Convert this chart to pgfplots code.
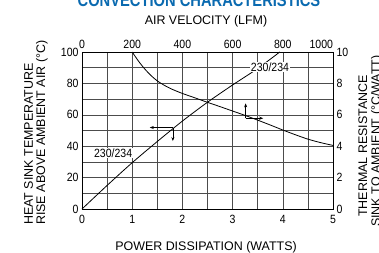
\documentclass[border=0pt]{standalone}
\usepackage{fontspec}
\setmainfont{Liberation Sans}
\newfontfamily\narrowfont[FakeStretch=0.88]{Liberation Sans}
\newfontfamily\titlefont[FakeStretch=0.82]{Liberation Sans}
\usepackage{pgfplots}
\pgfplotsset{compat=1.18}
\usetikzlibrary{arrows.meta}
\definecolor{titleblue}{HTML}{0A6AB0}
\begin{document}
\begin{tikzpicture}
\begin{axis}[
  scale only axis, width=251bp, height=157bp,
  xmin=0, xmax=5, ymin=0, ymax=100,
  xtick={0,...,5}, ytick={0,20,...,100},
  minor xtick={0.5,1.5,...,4.5}, minor ytick={10,30,...,90},
  grid=both,
  major grid style={black!70, line width=0.5pt},
  minor grid style={black!70, line width=0.5pt},
  major tick length=0pt, minor tick length=0pt,
  xtick pos=bottom, ytick pos=left,
  axis line style={black, line width=0.9pt},
  tick label style={font=\narrowfont\fontsize{12}{12}\selectfont},
  xticklabel style={yshift=-3bp},
  /pgf/number format/assume math mode=true,
  clip=false]
\addplot[black, line width=0.8pt, smooth] coordinates {
  (0,0) (0.5,15) (1,29.5) (1.5,43) (2,56) (2.5,68) (3,79) (3.5,89.5) (3.94,100)};
\draw[line width=0.6pt, -{Stealth[length=4pt,width=3pt]}] (axis cs:1.81,51.9) -- (axis cs:1.35,51.9);
\draw[line width=0.6pt, -{Stealth[length=4pt,width=3pt]}] (axis cs:1.81,51.9) -- (axis cs:1.81,43.3);
\node[font=\narrowfont\fontsize{12}{12}\selectfont, fill=white, inner sep=0.5pt] at (axis cs:0.62,35.7) {230/234};
\node[font=\narrowfont\fontsize{12}{12}\selectfont, fill=white, inner sep=0.5pt] at (axis cs:3.745,90.6) {230/234};
\end{axis}
\begin{axis}[
  scale only axis, width=251bp, height=157bp,
  xmin=0, xmax=1000, ymin=0, ymax=10,
  axis x line*=top, axis y line*=right,
  xtick={0,200,...,1000},
  xticklabels={0,200,400,600,800,\makebox[0pt][r]{1000}},
  ytick={0,2,...,10},
  major tick length=0pt,
  axis line style={black, line width=0.9pt},
  tick label style={font=\narrowfont\fontsize{12}{12}\selectfont},
  /pgf/number format/assume math mode=true,
  clip=false]
\addplot[black, line width=0.8pt, smooth, tension=0.5] coordinates {
  (200,10) (225,9.42) (250,8.92) (275,8.5) (300,8.16) (330,7.86) (360,7.62) (400,7.36) (450,7.08) (490,6.85) (550,6.52) (600,6.24) (650,5.96) (700,5.66) (750,5.35) (800,5.03) (850,4.73) (900,4.45) (950,4.23) (1000,4.05)};
\draw[line width=0.6pt, -{Stealth[length=4pt,width=3pt]}] (axis cs:652,5.78) -- (axis cs:652,6.73);
\draw[line width=0.6pt, -{Stealth[length=4pt,width=3pt]}] (axis cs:652,5.78) -- (axis cs:722,5.78);
\end{axis}
\begin{scope}[font=\fontsize{12.5}{12.5}\selectfont]
\node[anchor=base, inner sep=0] at (124bp,-41bp) {POWER DISSIPATION (WATTS)};
\node[anchor=base, inner sep=0] at (124bp,184bp) {AIR VELOCITY (LFM)};
\node[rotate=90, anchor=base west, inner sep=0] at (-49bp,-16bp) {HEAT SINK TEMPERATURE};
\node[rotate=90, anchor=base west, inner sep=0] at (-37bp,-16bp) {RISE ABOVE AMBIENT AIR (°C)};
\node[rotate=90, anchor=base west, inner sep=0] at (285bp,-8bp) {THERMAL RESISTANCE};
\node[rotate=90, anchor=base west, inner sep=0] at (298bp,-18bp) {SINK TO AMBIENT (°C/WATT)};
\end{scope}
\node[anchor=base, inner sep=0, text=titleblue, font=\titlefont\bfseries\fontsize{18}{18}\selectfont] at (117bp,202bp) {CONVECTION CHARACTERISTICS};
\pgfresetboundingbox
\path[use as bounding box] (-82bp,-44bp) rectangle (297bp,209bp);
\end{tikzpicture}
\end{document}
